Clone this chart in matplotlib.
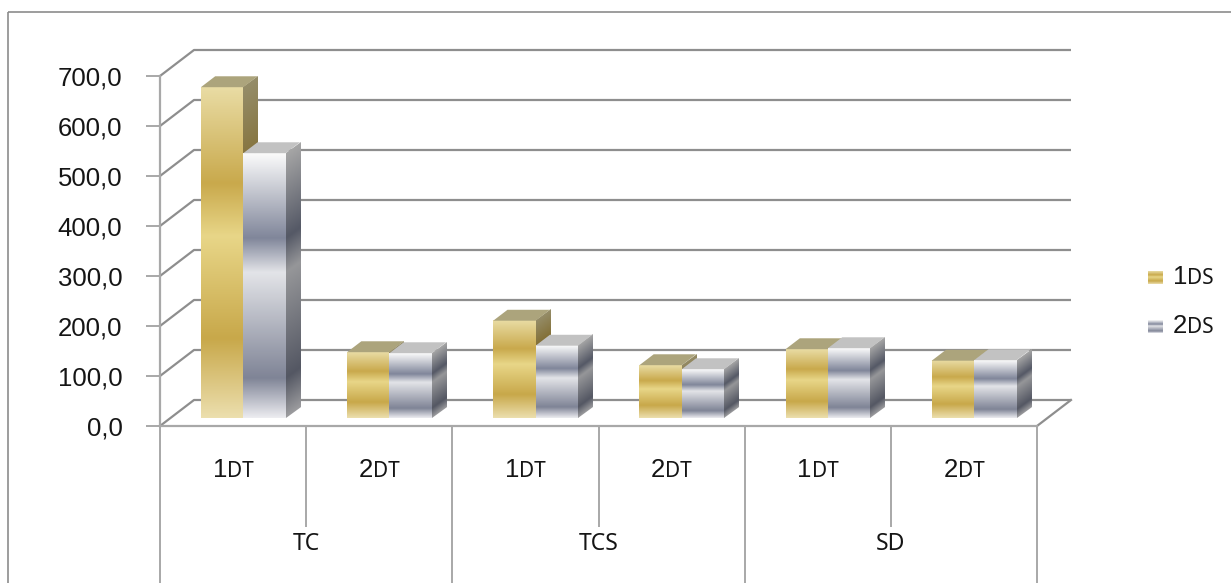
import numpy as np
import matplotlib
matplotlib.use("Agg")
import matplotlib.pyplot as plt
from matplotlib.colors import LinearSegmentedColormap, to_rgb
from matplotlib.patches import Polygon, Rectangle
from matplotlib.transforms import Affine2D

# ---- data ----
groups = ["TC", "TCS", "SD"]
subcats = ["1DT", "2DT"]
series_names = ["1DS", "2DS"]
ds1 = [662, 132, 195, 106, 138, 115]
ds2 = [530, 130, 145, 98, 140, 116]
yticks = [0, 100, 200, 300, 400, 500, 600, 700]
ytick_labels = ["0,0", "100,0", "200,0", "300,0", "400,0", "500,0", "600,0", "700,0"]

plt.rcParams['font.family'] = ['Liberation Sans', 'DejaVu Sans']
NUM_FONT = ['Liberation Sans', 'DejaVu Sans']
TXT_FONT = ['Noto Sans', 'DejaVu Sans']
NUM_SIZE = 18.5
SUB_SIZE = 15
GROUP_SIZE = 16.5
TXT_COLOR = "#151515"

W, H = 1231, 583
fig = plt.figure(figsize=(W / 100, H / 100), dpi=100)
fig.patch.set_facecolor("white")
PX = Affine2D().scale(1, -1).translate(0, H)   # pixel-from-top coordinates

ax = fig.add_axes([160 / W, (H - 426) / H, 877 / W, 350 / H])
ncat = len(ds1)

# oblique depth offset (full depth) in data units
DX, DY = 0.2326, 52.0
D0, D1 = 0.30, 0.72          # bar depth range
GRID = "#8e8e8e"
AXC = "#a8a8a8"


def P(x, y, d):
    return (x + DX * d, y + DY * d)


# ---- walls and floor ----
for v in yticks:
    ax.plot([0, DX, ncat + DX], [v, v + DY, v + DY], color=GRID, lw=1.6,
            clip_on=False, zorder=1, solid_capstyle="butt")
ax.plot([ncat, ncat + DX], [0, DY], color=GRID, lw=1.6, clip_on=False, zorder=1)

# ---- gradients ----
def cmap_from(stops, name, factor=1.0):
    cols = [(t, tuple(min(1, c * factor) for c in to_rgb(h))) for t, h in stops]
    return LinearSegmentedColormap.from_list(name, cols)

gold_stops = [(0.00, "#ecdfae"), (0.24, "#c8a84a"), (0.55, "#e8d688"),
              (0.71, "#c9a94c"), (1.00, "#e9dca4")]
silver_stops = [(0.00, "#ececf0"), (0.15, "#7f8496"), (0.55, "#e3e4e8"),
                (0.68, "#80869a"), (1.00, "#fbfbfb")]
front_cmaps = [cmap_from(gold_stops, "gold"), cmap_from(silver_stops, "silver")]
side_cmaps = [cmap_from(gold_stops, "gold_s", 0.64), cmap_from(silver_stops, "silver_s", 0.66)]
top_colors = ["#aca47c", "#c2c2c2"]
grad = np.linspace(0, 1, 256).reshape(-1, 1)

bar_w = 0.29
offs = [0.21, 0.21 + bar_w]


def draw_bar(x0, v, k, z):
    x1 = x0 + bar_w
    dd = D1 - D0
    # front face
    tr = Affine2D().translate(DX * D0, DY * D0) + ax.transData
    ax.imshow(grad, cmap=front_cmaps[k], extent=(x0, x1, 0, v), origin="lower",
              aspect="auto", transform=tr, interpolation="bilinear",
              zorder=z, clip_on=False)
    # side face
    m = np.array([[DX * dd, 0, x1 + DX * D0], [DY * dd, 1, DY * D0], [0, 0, 1]])
    ax.imshow(grad, cmap=side_cmaps[k], extent=(0, 1, 0, v), origin="lower",
              aspect="auto", transform=Affine2D(m) + ax.transData,
              interpolation="bilinear", zorder=z, clip_on=False)
    # top face
    ax.add_patch(Polygon([P(x0, v, D0), P(x1, v, D0), P(x1, v, D1), P(x0, v, D1)],
                         closed=True, fc=top_colors[k], ec="none", zorder=z,
                         clip_on=False))


z = 3
for i in range(ncat):
    for k, vals in enumerate([ds1, ds2]):
        draw_bar(i + offs[k], vals[i], k, z)
        z += 1

# ---- axes / ticks ----
ax.set_xlim(0, ncat)
ax.set_ylim(0, 700)
for s in ["top", "right"]:
    ax.spines[s].set_visible(False)
for s in ["left", "bottom"]:
    ax.spines[s].set_color(AXC)
    ax.spines[s].set_linewidth(1.6)
    ax.spines[s].set_zorder(2)
ax.patch.set_visible(False)
ax.set_yticks(yticks, ytick_labels)
ax.tick_params(axis="y", direction="out", length=10, width=1.4, color=AXC,
               labelsize=NUM_SIZE, pad=17, labelcolor=TXT_COLOR)
ax.set_xticks(range(0, ncat + 1, 2))
ax.set_xticks(range(1, ncat, 2), minor=True)
ax.tick_params(axis="x", which="major", direction="out", length=150, width=1.4,
               color=AXC, labelbottom=False)
ax.tick_params(axis="x", which="minor", direction="out", length=73, width=1.4,
               color=AXC, labelbottom=False)

renderer = fig.canvas.get_renderer()


def mixed(x, y, big, small, trans):
    t1 = ax.text(x, y, big, ha="right", va="baseline", fontsize=NUM_SIZE,
                 family=NUM_FONT, transform=trans, clip_on=False, color=TXT_COLOR)
    t2 = ax.text(x, y, small, ha="left", va="baseline", fontsize=SUB_SIZE,
                 family=TXT_FONT, transform=trans, clip_on=False, color=TXT_COLOR)
    w1 = t1.get_window_extent(renderer).width
    w2 = t2.get_window_extent(renderer).width
    sh = Affine2D().translate((w1 - w2) / 2.0, 0)
    t1.set_transform(trans + sh)
    t2.set_transform(trans + sh)


for i in range(ncat):
    sub = subcats[i % 2]
    mixed(i + 0.5, -102, sub[0], sub[1:], ax.transData)
for g, name in enumerate(groups):
    ax.text(2 * g + 1, -248, name, ha="center", va="baseline", fontsize=GROUP_SIZE,
            family=TXT_FONT, color=TXT_COLOR, clip_on=False)

# ---- legend ----
leg_y = [284, 333]
for k, name in enumerate(series_names):
    yb = leg_y[k]
    ax.imshow(grad, cmap=front_cmaps[k], extent=(1148, 1163, yb, yb - 13),
              origin="lower", aspect="auto", transform=PX,
              interpolation="bilinear", clip_on=False, zorder=10)
    t1 = fig.text(1173, yb, name[0], ha="left", va="baseline", fontsize=NUM_SIZE,
                  family=NUM_FONT, transform=PX, color=TXT_COLOR)
    w1 = t1.get_window_extent(renderer).width
    fig.text(1173 + w1, yb, name[1:], ha="left", va="baseline", fontsize=SUB_SIZE,
             family=TXT_FONT, transform=PX, color=TXT_COLOR)

ax.set_xlim(0, ncat)
ax.set_ylim(0, 700)

# chart frame
fig.add_artist(Rectangle((8, 12), 1400, 800, transform=PX, fill=False,
                         ec="#8c8c8c", lw=1.2))

fig.savefig("out.png", dpi=100, facecolor="white")
